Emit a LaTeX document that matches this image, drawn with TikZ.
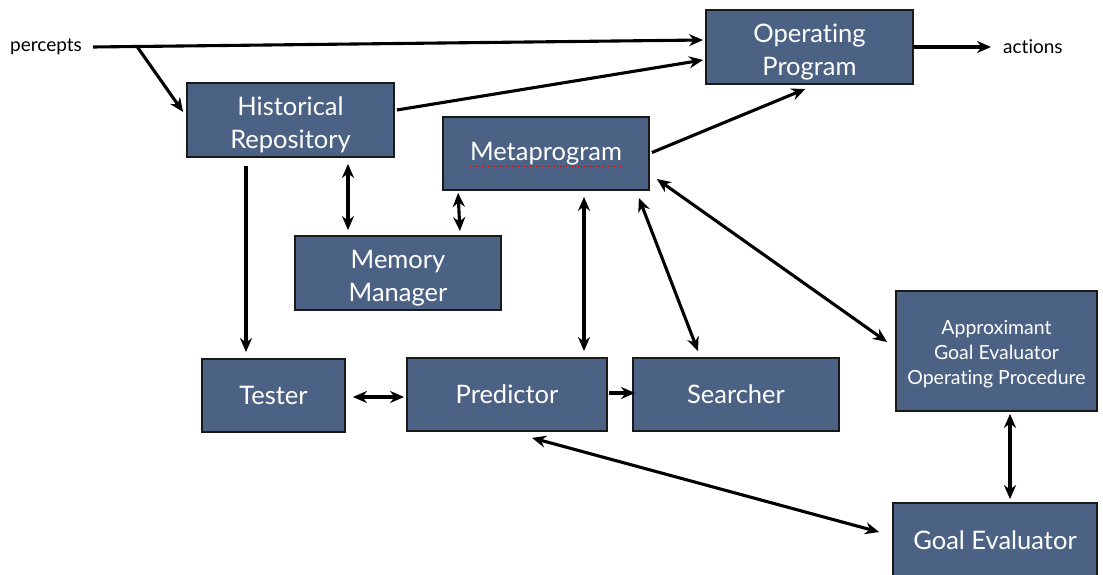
\documentclass[tikz,border=0pt]{standalone}
\usepackage{fontspec}
\setmainfont{Lato}[Ligatures=NoCommon]
\usetikzlibrary{arrows.meta,calc}
\definecolor{boxblue}{RGB}{76,98,132}
\definecolor{boxedge}{RGB}{25,25,25}
\newcommand\topstrut{\rule{0pt}{28pt}}
\newcommand\smallstrut{\rule{0pt}{20pt}}
\tikzset{
  box/.style={draw=boxedge, line width=1.8pt, fill=boxblue, text=white, align=center,
    inner sep=0pt, font=\fontsize{25.5}{33}\selectfont},
  smallbox/.style={box, font=\fontsize{19.5}{25}\selectfont},
  lbl/.style={font=\fontsize{19}{22}\selectfont, inner sep=0pt},
  tip/.tip={Stealth[length=14pt,width=12pt,inset=4.5pt]},
  conn/.style={line width=3.1pt, -tip},
  biconn/.style={line width=3.1pt, tip-tip}
}
\begin{document}
\begin{tikzpicture}[x=1pt,y=-1pt]
\useasboundingbox (0,0) rectangle (1103,575);
% boxes
\node[box, minimum width=207pt, minimum height=74pt] (op) at (809.5,47) {\topstrut Operating\\Program};
\node[box, minimum width=207pt, minimum height=74pt] (hr) at (290.5,120) {\topstrut Historical\\Repository};
\node[box, minimum width=206pt, minimum height=73pt] (meta) at (546,153.5) {Metaprogram};
\node[box, minimum width=206pt, minimum height=74pt] (mem) at (398,273) {\topstrut Memory\\Manager};
\node[box, minimum width=143pt, minimum height=73pt] (tester) at (273.5,395.5) {Tester};
\node[box, minimum width=200pt, minimum height=73pt] (pred) at (507,394.5) {Predictor};
\node[box, minimum width=206pt, minimum height=73pt] (search) at (736,394.5) {Searcher};
\node[smallbox, minimum width=201pt, minimum height=120pt] (approx) at (996.5,351) {\smallstrut Approximant\\Goal Evaluator\\Operating Procedure};
\node[box, minimum width=204pt, minimum height=74pt] (goal) at (995,540) {Goal Evaluator};
% spell-check underline
\draw[red!80!black, line width=1pt, dotted] ($(meta.center)+(-76,12.5)$) -- ($(meta.center)+(75,12.5)$);
% labels
\node[lbl, anchor=west] (percepts) at (10,47) {percepts};
\node[lbl, anchor=west] (actions) at (1003,47) {actions};
\coordinate (p0) at (93,47);
\coordinate (pb) at (137,46.5);
% connectors
\draw[conn] (p0) -- ($(op.west)+(-2,-7)$);
\draw[conn] (pb) -- ($(hr.west)+(-3,-8)$);
\draw[conn] ($(hr.east)+(2,-10)$) -- ($(op.west)+(-2,13)$);
\draw[conn] ($(meta.east)+(2,-1)$) -- ($(op.south)+(-4,4)$);
\draw[conn] (op.east) -- ($(actions.west)+(-12,0)$);
\draw[conn] ($(hr.south)+(-44.5,8)$) -- ($(tester.north)+(-27.5,-6)$);
\draw[biconn] ($(hr.south)+(57.5,6)$) -- ($(mem.north)+(-50,-5)$);
\draw[biconn] ($(meta.south west)+(16,2)$) -- ($(mem.north east)+(-42,-4)$);
\draw[biconn] ($(meta.south)+(38,6)$) -- ($(pred.north)+(77,-6)$);
\draw[biconn] ($(meta.south east)+(-11,7)$) -- ($(search.north)+(-38,-6)$);
\draw[biconn] ($(meta.east)+(7,25.5)$) -- ($(approx.west)+(-8,-9)$);
\draw[biconn] ($(tester.east)+(7,1.5)$) -- ($(pred.west)+(-2,2.5)$);
\draw[conn] ($(pred.east)+(1,-1.5)$) -- ($(search.west)+(3,-1.5)$);
\draw[biconn] ($(pred.south)+(25,6)$) -- ($(goal.west)+(-13,-8)$);
\draw[biconn] ($(approx.south)+(13.5,2)$) -- ($(goal.north)+(15,-3)$);
\end{tikzpicture}
\end{document}
